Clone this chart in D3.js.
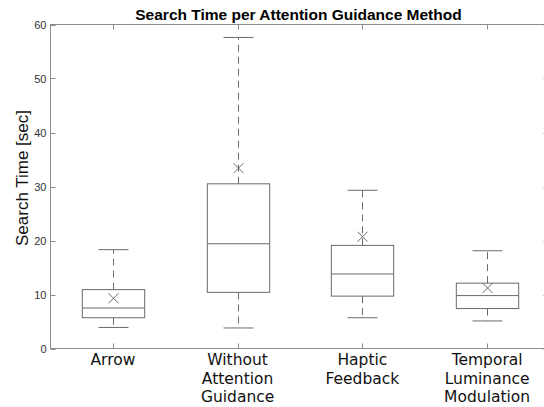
<!DOCTYPE html>
<html>
<head>
<meta charset="utf-8">
<script src="https://cdn.jsdelivr.net/npm/d3@7"></script>
<style>
  html, body { margin: 0; padding: 0; background: #fff; }
  svg { display: block; }
</style>
</head>
<body>
<div id="chart"></div>
<script>
// values (seconds)
const categories = [['Arrow'], ['Without', 'Attention', 'Guidance'], ['Haptic', 'Feedback'], ['Temporal', 'Luminance', 'Modulation']]
const whiskerLow = [3.9, 3.8, 5.7, 5.1]
const q1 = [5.7, 10.4, 9.7, 7.4]
const median = [7.5, 19.4, 13.8, 9.8]
const q3 = [10.9, 30.5, 19.1, 12.1]
const whiskerHigh = [18.3, 57.6, 29.3, 18.1]
const means = [9.3, 33.4, 20.7, 11.2]
const yTicks = [0, 10, 20, 30, 40, 50, 60]

const width = 544, height = 407
const margin = {top: 24.5, left: 50.5, bottom: 348.5, right: 549.5}
const boxColor = '#6a6a6a', axisColor = '#8c8c8c'

const svg = d3.select('#chart').append('svg')
    .attr('width', width)
    .attr('height', height)

const x = d3.scaleLinear().domain([0.5, 4.5]).range([margin.left, margin.right])
const y = d3.scaleLinear().domain([0, 60]).range([margin.bottom, margin.top])
const unit = x(2) - x(1)

// frame
svg.append('rect')
    .attr('x', margin.left).attr('y', margin.top)
    .attr('width', margin.right - margin.left).attr('height', margin.bottom - margin.top)
    .attr('fill', 'none').attr('stroke', axisColor).attr('stroke-width', 1)

// y ticks (inward, both sides)
yTicks.forEach(t => {
    svg.append('line')
        .attr('x1', margin.left).attr('x2', margin.left + 5)
        .attr('y1', Math.round(y(t)) + 0.5).attr('y2', Math.round(y(t)) + 0.5)
        .attr('stroke', axisColor)
    svg.append('line')
        .attr('x1', margin.right).attr('x2', margin.right - 6)
        .attr('y1', Math.round(y(t)) + 0.5).attr('y2', Math.round(y(t)) + 0.5)
        .attr('stroke', axisColor)
    svg.append('text')
        .attr('x', 46.5).attr('y', y(t) + 4)
        .attr('text-anchor', 'end')
        .style('font', '11px "Liberation Sans", Arial, sans-serif')
        .attr('fill', '#333')
        .text(t)
})

// x ticks (inward, top and bottom)
categories.forEach((c, i) => {
    const cx = Math.round(x(i + 1)) + 0.5
    svg.append('line').attr('x1', cx).attr('x2', cx)
        .attr('y1', margin.bottom).attr('y2', margin.bottom - 5).attr('stroke', axisColor)
    svg.append('line').attr('x1', cx).attr('x2', cx)
        .attr('y1', margin.top).attr('y2', margin.top + 5).attr('stroke', axisColor)
    const label = svg.append('text')
        .attr('x', x(i + 1)).attr('y', 365)
        .attr('text-anchor', 'middle')
        .style('font', '15.5px "DejaVu Sans", sans-serif')
        .attr('fill', '#111')
    c.forEach((line, j) => {
        label.append('tspan').attr('x', x(i + 1)).attr('dy', j === 0 ? 0 : 18.5).text(line)
    })
})

// boxes
const g = svg.append('g').attr('stroke', boxColor).attr('fill', 'none').attr('stroke-width', 1)
categories.forEach((c, i) => {
    const cx = Math.round(x(i + 1)) + 0.5
    const half = unit * 0.25, cap = unit * 0.12
    // whiskers
    g.append('line').attr('x1', cx).attr('x2', cx)
        .attr('y1', y(q3[i])).attr('y2', y(whiskerHigh[i]))
        .attr('stroke-dasharray', '7,5')
    g.append('line').attr('x1', cx).attr('x2', cx)
        .attr('y1', y(q1[i])).attr('y2', y(whiskerLow[i]))
        .attr('stroke-dasharray', '7,5')
    // caps
    g.append('line').attr('x1', cx - cap).attr('x2', cx + cap)
        .attr('y1', y(whiskerHigh[i])).attr('y2', y(whiskerHigh[i]))
    g.append('line').attr('x1', cx - cap).attr('x2', cx + cap)
        .attr('y1', y(whiskerLow[i])).attr('y2', y(whiskerLow[i]))
    // box
    g.append('rect')
        .attr('x', cx - half).attr('y', y(q3[i]))
        .attr('width', half * 2).attr('height', y(q1[i]) - y(q3[i]))
        .attr('fill', '#fff')
    g.append('line').attr('x1', cx - half).attr('x2', cx + half)
        .attr('y1', y(median[i])).attr('y2', y(median[i]))
    // mean marker
    const my = y(means[i]), s = 5
    g.append('path')
        .attr('d', `M${cx - s},${my - s}L${cx + s},${my + s}M${cx - s},${my + s}L${cx + s},${my - s}`)
})

// title and y label
svg.append('text')
    .attr('x', 298.5).attr('y', 19.5)
    .attr('text-anchor', 'middle')
    .style('font', 'bold 15.5px "Liberation Sans", Arial, sans-serif')
    .attr('fill', '#000')
    .text('Search Time per Attention Guidance Method')

svg.append('text')
    .attr('transform', `translate(28, 178) rotate(-90)`)
    .attr('text-anchor', 'middle')
    .style('font', '17px "Liberation Sans", Arial, sans-serif')
    .attr('fill', '#111')
    .text('Search Time [sec]')
</script>
</body>
</html>
